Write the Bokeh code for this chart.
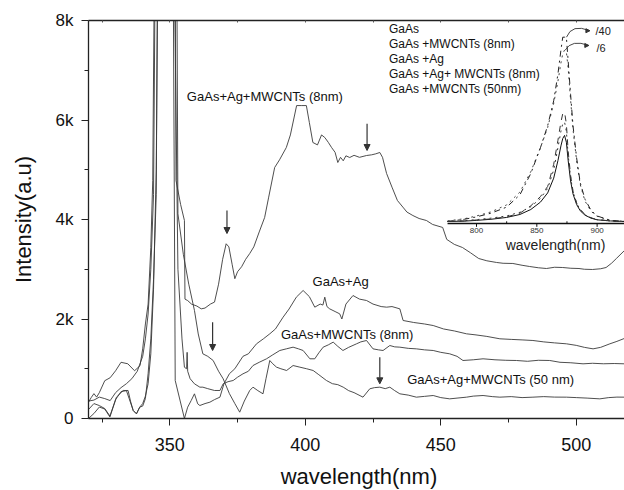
from bokeh.plotting import figure
from bokeh.layouts import column
from bokeh.models import (Range1d, LinearAxis, FixedTicker, ColumnDataSource, Arrow,
                          NormalHead, Legend, LegendItem, CustomJSTickFormatter, Div)
from bokeh.core.properties import value
from bokeh.embed import file_html
from bokeh.resources import INLINE

FONT = "Liberation Sans"

# ---------------- main spectra (wavelength nm, intensity) ----------------
a8_x = [320, 321, 322, 323, 324, 326, 328, 330, 332, 334.5, 337, 339, 340, 341, 342, 343, 343.7, 344.3,
        346, 349, 351.8, 352.3, 354, 355.4, 355.6, 356.6, 358, 360, 361.6, 363, 365, 366.5, 368, 369.5,
        370.8, 371.8, 373, 374, 375, 376.5, 378, 379.5, 381, 383, 385, 386.5, 388.7, 390.5, 393, 394.5,
        396.8, 398.5, 400.4, 401.5, 402.8, 404.5, 406, 407.2, 408.5, 409.7, 411, 412, 413, 414, 415,
        416.4, 418, 420, 422.6, 424.5, 426, 427.5, 428.5, 430, 432, 434, 436, 437.5, 439.7, 442, 444.7,
        447, 450.7, 452.2, 455, 458, 461, 464, 467, 470.6, 473, 476.6, 480, 482.8, 486, 489, 492, 495,
        498, 501, 503, 506, 509, 511, 513, 514.8, 517.8]
a8_y = [330, 420, 500, 430, 520, 760, 820, 960, 1130, 1100, 960, 1060, 1400, 1900, 2300, 3440, 4780, 9000,
        12000, 12000, 12000, 4784, 4300, 3980, 2400, 2370, 2300, 2260, 2204, 2220, 2300, 2340, 2700, 3200,
        3512, 3450, 3100, 2810, 2950, 3050, 3200, 3316, 3450, 3750, 4040, 4450, 5045, 5200, 5447, 5700,
        6290, 6290, 6290, 5950, 5548, 5500, 5700, 5648, 5550, 5447, 5350, 5146, 5250, 5180, 5280,
        5246, 5290, 5250, 5286, 5300, 5320, 5347, 5250, 4925, 4650, 4382, 4250, 4150, 4080, 4020, 3980,
        3900, 3840, 3600, 3500, 3437, 3330, 3216, 3170, 3136, 3120, 3116, 3080, 3055, 3030, 3015, 3040, 3035,
        3020, 3015, 3000, 2995, 3010, 3035, 3120, 3216, 3377]

ag_x = [320, 322, 324, 326, 327.9, 330, 332, 334, 335, 336.5, 337.7, 338.9, 340, 341, 342, 343, 344, 345,
        346, 351, 352, 355.4, 356.6, 357.9, 359.1, 360.3, 361.1, 363, 364.8, 366.5, 368.5, 370, 372, 374,
        377, 379, 382, 384.5, 386.9, 389, 391.8, 394, 396.7, 399.2, 401.5, 403.5, 405.5, 406.5, 407.2, 408,
        409, 411, 412.7, 413.5, 415, 417.6, 420, 422.6, 425, 428, 430, 432, 434.9, 436.1, 440, 444, 447.2,
        451, 455, 459.5, 463, 467, 471.8, 476, 480, 484, 488, 492, 496.4, 500, 503, 506.2, 509, 512.4,
        515, 517.8]
ag_y = [180, 300, 260, 200, 50, 380, 540, 560, 400, 161, 94, 227, 300, 450, 700, 1300, 2600, 5000,
        12000, 12000, 764, 0, 228, 362, 496, 295, 261, 300, 328, 380, 429, 700, 900, 1000,
        1250, 1300, 1501, 1600, 1702, 1800, 2036, 2200, 2439, 2573, 2450, 2238, 2300, 2280, 2439, 2250,
        2204, 2150, 2104, 2000, 2300, 2472, 2400, 2372, 2300, 2250, 2238, 2250, 2204, 1970, 1930, 1900, 1869,
        1800, 1760, 1702, 1680, 1650, 1602, 1590, 1580, 1568, 1540, 1520, 1501, 1470, 1430, 1400, 1430, 1501,
        1550, 1610]

m8_x = [320, 322, 324, 326, 328, 330, 332, 334, 336, 338, 340, 341, 342, 343, 344, 345, 351, 353, 354.5,
        355.4, 356.2, 356.4, 356.6, 357.5, 359.1, 361.1, 362.2, 364, 366.5, 368.5, 369.7, 371.5, 373.4, 375,
        377, 379, 380.7, 383, 385.7, 388, 390.6, 393, 395.5, 397.5, 399.2, 401.7, 403.5, 405, 406.6, 408.5,
        410.3, 412, 413.9, 416, 418.9, 420.5, 422.6, 425, 427, 428.7, 431.2, 433, 434.9, 438, 441, 444,
        447.2, 450, 453.3, 456, 458.2, 462, 465.6, 470, 474, 477.9, 482, 486, 490.2, 494, 498, 502.5, 506,
        510, 514, 517.8]
m8_y = [350, 370, 430, 400, 360, 520, 620, 700, 800, 950, 1250, 1600, 2100, 3000, 4500, 12000, 12000, 3000, 1600,
        1030, 1000, 1330, 950, 800, 697, 630, 630, 600, 563, 563, 697, 740, 764, 830,
        898, 950, 1065, 1130, 1200, 1280, 1367, 1400, 1434, 1400, 1367, 1200, 1200, 1320, 1434, 1480,
        1535, 1450, 1367, 1430, 1501, 1540, 1568, 1400, 1380, 1367, 1467, 1440, 1434, 1410, 1400, 1380,
        1367, 1330, 1300, 1250, 1166, 1180, 1200, 1180, 1170, 1166, 1150, 1170, 1166, 1130, 1120, 1099, 1110,
        1100, 1105, 1099]

am50_x = [320, 322, 324, 326, 327.9, 330.3, 332.8, 334.6, 335.5, 336.5, 337.7, 338.9, 340, 341, 342, 343, 344,
          345, 345.8, 352, 352.6, 353, 355, 357, 359.1, 360.5, 362.2, 364, 366, 368, 369.7, 372, 374, 375.8,
          377.5, 379.5, 380.7, 382.5, 384.4, 385.5, 386.9, 388, 389.4, 391, 393.1, 395.5, 398, 400.5, 402.9,
          405, 407.8, 410, 412, 414, 416, 418, 421.3, 423.8, 425.5, 427.5, 429.5, 431.2, 433, 434.9, 438, 441,
          444, 447.2, 450, 453.3, 456, 459.5, 462, 465.6, 469, 471.8, 476, 480, 484, 488, 492, 496.4, 500,
          504, 508.7, 512, 515, 517.8]
am50_y = [0, 100, 230, 190, 30, 428, 563, 563, 350, 161, 94, 227, 250, 400, 900, 1600, 2800,
          4500, 12000, 12000, 9000, 4115, 3300, 2700, 2171, 1700, 1300, 1250, 1166, 950, 798, 500, 300, 127,
          350, 563, 630, 560, 496, 800, 1166, 1100, 1032, 1000, 965, 1065, 1032, 1000, 965,
          880, 764, 700, 680, 630, 560, 520, 429, 597, 620, 630, 600, 630, 560, 496, 470, 429,
          445, 462, 420, 395, 410, 429, 450, 462, 440, 429, 440, 420, 429, 440, 430, 429, 420,
          410, 395, 420, 430, 429]

# ---------------- labels & arrows (main) ----------------
lab_text = ["GaAs+Ag+MWCNTs (8nm)", "GaAs+Ag", "GaAs+MWCNTs (8nm)", "GaAs+Ag+MWCNTs (50 nm)"]
lab_x = [356.3, 402.7, 391.0, 437.6]
lab_y = [6472, 2754, 1688, 784]

arr_x = [371.1, 422.8, 365.8, 427.5]
arr_y0 = [4180, 5923, 1936, 1233]
arr_y1 = [3718, 5387, 1367, 697]

x_ticks = [350, 400, 450, 500]
x_minor = [325, 375, 425, 475]
top_ticks = [325, 350, 375, 400, 425, 450, 475, 500]
y_ticks = [0, 2000, 4000, 6000, 8000]
y_tick_labels = ["0", "2k", "4k", "6k", "8k"]
y_minor = [1000, 3000, 5000, 7000]
x_title = "wavelength(nm)"
y_title = "Intensity(a.u)"

# ---------------- inset (PL spectra, normalised) ----------------
inset_x = [776, 790, 800, 812, 825, 836, 845, 853, 859, 864, 867.5, 870, 871.5, 873, 874.5, 876, 878, 880,
           883, 886, 890, 895, 900, 911, 922.7]
in_gaas = [0, 0.002, 0.006, 0.012, 0.022, 0.038, 0.065, 0.105, 0.155, 0.235, 0.33, 0.41, 0.45, 0.467, 0.43,
           0.33, 0.22, 0.15, 0.092, 0.058, 0.034, 0.018, 0.009, 0.003, 0]
in_m8 = [0, 0.004, 0.01, 0.018, 0.03, 0.05, 0.08, 0.125, 0.18, 0.28, 0.40, 0.49, 0.53, 0.539, 0.49,
         0.36, 0.24, 0.16, 0.10, 0.063, 0.036, 0.019, 0.01, 0.003, 0]
in_ag = [0.003, 0.015, 0.03, 0.052, 0.09, 0.16, 0.27, 0.40, 0.51, 0.64, 0.76, 0.86, 0.91, 0.93, 0.92,
         0.83, 0.66, 0.50, 0.33, 0.20, 0.11, 0.055, 0.028, 0.006, 0]
in_am8 = [0, 0.012, 0.025, 0.045, 0.078, 0.145, 0.26, 0.40, 0.52, 0.655, 0.80, 0.93, 1.0, 1.0, 1.0,
          0.87, 0.69, 0.52, 0.345, 0.21, 0.12, 0.06, 0.03, 0.006, 0]
in_m50 = [0, 0.003, 0.008, 0.014, 0.025, 0.045, 0.085, 0.135, 0.19, 0.31, 0.44, 0.54, 0.585, 0.593, 0.53,
          0.38, 0.25, 0.165, 0.10, 0.065, 0.038, 0.02, 0.01, 0.003, 0]
in_names = ["GaAs", "GaAs +MWCNTs (8nm)", "GaAs +Ag", "GaAs +Ag+ MWCNTs (8nm)", "GaAs +MWCNTs (50nm)"]
in_ticks = [800, 850, 900]
in_minor = [825, 875]
in_axis_x = [776, 922.7]
in_axis_v = -0.011
in_scale_text = ["/40", "/6"]
in_scale_x = [898.7, 899.5]
in_scale_v = [1.036, 0.944]
# curved pointer: start (peak), control, end (label)
cur_x0 = [874.6, 873.5]
cur_y0 = [1.0, 0.93]
cur_cx = [879.0, 879.0]
cur_cy = [1.075, 0.99]
cur_x1 = [894.0, 893.1]
cur_y1 = [1.035, 0.955]

# ---------------- figure ----------------
p = figure(width=624, height=458, output_backend="svg", toolbar_location=None,
           x_range=Range1d(320, 517.8), y_range=Range1d(0, 8000),
           min_border_left=88, min_border_right=0, min_border_top=20, min_border_bottom=40,
           margin=0)
p.outline_line_color = None
p.xgrid.visible = False
p.ygrid.visible = False
p.background_fill_color = "white"
p.border_fill_color = "white"

p.extra_x_ranges = {"ix": Range1d(478.3, 922.7)}
p.extra_y_ranges = {"iy": Range1d(-1.069, 1.0905)}

LC = "#3a3a3a"
for xs, ys in [(a8_x, a8_y), (ag_x, ag_y), (m8_x, m8_y), (am50_x, am50_y)]:
    p.line(xs, ys, line_color=LC, line_width=0.9)

p.text(x=lab_x, y=lab_y, text=lab_text, text_font=value(FONT), text_font_size="13px",
       text_baseline="middle", text_align="left", text_color="#111111")

arr_src = ColumnDataSource(dict(x0=arr_x, y0=arr_y0, x1=arr_x, y1=arr_y1))
p.add_layout(Arrow(end=NormalHead(size=6, fill_color="#333333", line_color="#333333", line_width=1),
                   x_start="x0", y_start="y0", x_end="x1", y_end="y1", source=arr_src,
                   line_color="#333333", line_width=1.2))

# axes
ax = p.xaxis[0]
ax.ticker = FixedTicker(ticks=x_ticks, minor_ticks=x_minor)
ay = p.yaxis[0]
ay.ticker = FixedTicker(ticks=y_ticks, minor_ticks=y_minor)
ay.major_label_overrides = {t: l for t, l in zip(y_ticks, y_tick_labels)}
ay.axis_label = y_title
for a, fs in [(ax, "18px"), (ay, "17px")]:
    a.axis_line_color = "#222222"
    a.axis_line_width = 1.3
    a.major_tick_line_color = "#222222"
    a.minor_tick_line_color = "#222222"
    a.major_tick_in = 0
    a.major_tick_out = 7
    a.minor_tick_in = 0
    a.minor_tick_out = 4
    a.major_label_text_font = FONT
    a.major_label_text_font_size = fs
    a.major_label_text_color = "#111111"
    a.axis_label_text_font = FONT
    a.axis_label_text_font_size = "22px"
    a.axis_label_text_font_style = "normal"
    a.axis_label_text_color = "#111111"
ax.major_label_standoff = 12
ay.major_label_standoff = 8
ay.axis_label_standoff = 17

top = LinearAxis(ticker=FixedTicker(ticks=top_ticks, minor_ticks=[]),
                 formatter=CustomJSTickFormatter(code="return ''"),
                 axis_line_color="#222222", axis_line_width=1.3,
                 major_tick_in=2, major_tick_out=0, major_tick_line_color="#555555",
                 minor_tick_line_color=None, major_label_standoff=0)
p.add_layout(top, "above")

# ---------------- inset ----------------
IK = dict(x_range_name="ix", y_range_name="iy")
styles = [("#111111", "solid", 1.0), ("#333333", "dotted", 1.0), ("#444444", "dotted", 1.0),
          ("#222222", "dashdot", 1.0), ("#333333", "dashed", 1.0)]
for ys, (c, d, w) in zip([in_gaas, in_m8, in_ag, in_am8, in_m50], styles):
    p.line(inset_x, ys, line_color=c, line_dash=d, line_width=w, **IK)

# inset axis
p.line(in_axis_x, [in_axis_v, in_axis_v], line_color="#111111", line_width=1.3, **IK)
p.segment(x0=in_ticks, y0=[in_axis_v] * len(in_ticks), x1=in_ticks, y1=[in_axis_v - 0.018] * len(in_ticks),
          line_color="#111111", line_width=1, **IK)
p.segment(x0=in_minor, y0=[in_axis_v] * len(in_minor), x1=in_minor, y1=[in_axis_v + 0.012] * len(in_minor),
          line_color="#111111", line_width=1, **IK)
p.text(x=in_ticks, y=[in_axis_v - 0.025] * len(in_ticks), text=[str(t) for t in in_ticks],
       text_font=value(FONT), text_font_size="8px", text_align="center", text_baseline="top",
       text_color="#333333", **IK)
p.text(x=[865.5], y=[-0.13], text=["wavelength(nm)"], text_font=value(FONT), text_font_size="14px",
       text_align="center", text_baseline="middle", text_color="#222222", **IK)

# scale factor notes and curved pointers
p.text(x=in_scale_x, y=in_scale_v, text=in_scale_text, text_font=value(FONT), text_font_size="11px",
       text_align="left", text_baseline="middle", text_color="#222222", **IK)
p.quadratic(x0=cur_x0, y0=cur_y0, x1=cur_x1, y1=cur_y1, cx=cur_cx, cy=cur_cy,
            line_color="#333333", line_width=0.9, **IK)
cur_src = ColumnDataSource(dict(xs=[x - 1.5 for x in cur_x1], ys=cur_y1, xe=cur_x1, ye=cur_y1))
p.add_layout(Arrow(end=NormalHead(size=4, fill_color="#333333", line_color="#333333"),
                   x_start="xs", y_start="ys", x_end="xe", y_end="ye", source=cur_src,
                   line_color="#333333", line_width=0.9, **IK))

# inset legend (light gray samples, as in the original)
leg_styles = [("#bbbbbb", "solid"), ("#cccccc", "dotted"), ("#cccccc", "dotted"),
              ("#cccccc", "dotted"), ("#cccccc", "dashed")]
items = []
for name, (c, d) in zip(in_names, leg_styles):
    r = p.line([], [], line_color=c, line_dash=d, line_width=1.2)
    items.append(LegendItem(label=name, renderers=[r]))
leg = Legend(items=items, location=(268, 322), padding=0, margin=0, spacing=0,
             label_height=15, glyph_height=15, glyph_width=29, label_standoff=4,
             label_text_font=FONT, label_text_font_size="12px", label_text_color="#111111",
             border_line_color=None, background_fill_alpha=0)
p.add_layout(leg)

# x-axis title placed below the plot (centred under the frame, at x = 359 px)
xt = Div(text=('<div style="width:530px; padding-top:6px; line-height:26px; text-align:center; '
               'font-family:\'%s\'; font-size:22px; color:#111111;">%s</div>') % (FONT, x_title),
         width=530, height=32, margin=(0, 0, 0, 94))

layout = column(p, xt, spacing=0)
open("out.html", "w").write(file_html(layout, INLINE))
